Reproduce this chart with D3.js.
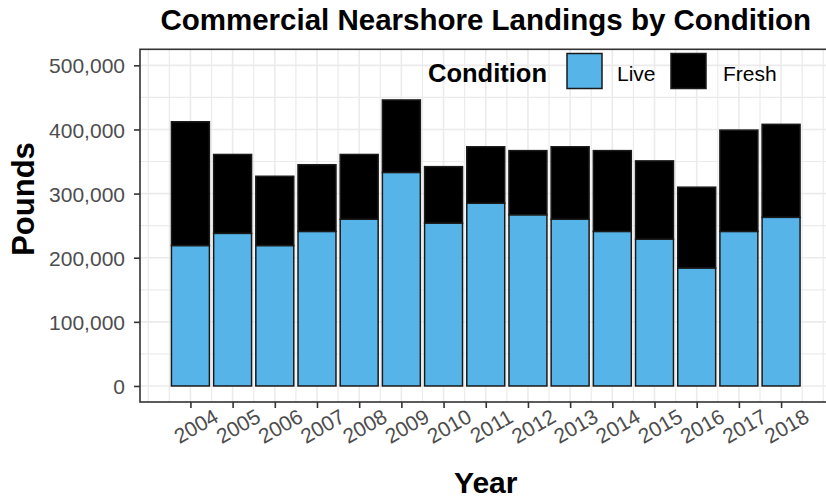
<!DOCTYPE html>
<html><head><meta charset="utf-8">
<script src="https://cdn.jsdelivr.net/npm/d3@7"></script>
<style>body{margin:0;background:#fff}svg{display:block}text{font-family:"Liberation Sans",Arial,sans-serif}</style>
</head><body><div id="c"></div>
<script>
const years = [2004,2005,2006,2007,2008,2009,2010,2011,2012,2013,2014,2015,2016,2017,2018];
const live  = [219000,238000,219000,241000,260000,333000,254000,285000,267000,260000,241000,229000,184000,241000,263000];
const fresh = [193000,123000,108000,104000,101000,113000,88000,88000,100000,113000,126000,122000,126000,158000,145000];
const seriesNames = ["Live","Fresh"];
const seriesColors = ["#56B4E9","#000000"];
const yTicks = [0,100000,200000,300000,400000,500000];

const W=826,H=499;
const svg=d3.select("#c").append("svg").attr("width",W).attr("height",H);
const L=140,R=831.5,T=49.3,B=402;
const x=d3.scaleLinear().domain([2002.805,2019.195]).range([L,R]);
const y=d3.scaleLinear().domain([-25000,525000]).range([B,T]);
const grey="#EBEBEB";
const g=svg.append("g");
svg.append("clipPath").attr("id","pc").append("rect").attr("x",L).attr("y",T).attr("width",R-L).attr("height",B-T);
const pg=g.append("g").attr("clip-path","url(#pc)");
const xMinor=d3.range(2003,2019.6,0.5).filter(v=>!years.includes(v));
pg.selectAll(".xm").data(xMinor).enter().append("line").attr("x1",d=>x(d)).attr("x2",d=>x(d)).attr("y1",T).attr("y2",B).attr("stroke",grey).attr("stroke-width",1.2);
const yMinor=d3.range(-50000,550001,50000).filter(v=>!yTicks.includes(v));
pg.selectAll(".ym").data(yMinor).enter().append("line").attr("x1",L).attr("x2",R).attr("y1",d=>y(d)).attr("y2",d=>y(d)).attr("stroke",grey).attr("stroke-width",1.2);
pg.selectAll(".xM").data(years).enter().append("line").attr("x1",d=>x(d)).attr("x2",d=>x(d)).attr("y1",T).attr("y2",B).attr("stroke",grey).attr("stroke-width",1.6);
pg.selectAll(".yM").data(yTicks).enter().append("line").attr("x1",L).attr("x2",R).attr("y1",d=>y(d)).attr("y2",d=>y(d)).attr("stroke",grey).attr("stroke-width",1.6);

const rows=years.map((yr,i)=>({year:yr,Live:live[i],Fresh:fresh[i]}));
const stack=d3.stack().keys(seriesNames)(rows);
const step=x(2005)-x(2004), bw=step*0.9;
stack.forEach((s,si)=>{
  pg.selectAll(".b"+si).data(s).enter().append("rect")
    .attr("x",d=>x(d.data.year)-bw/2).attr("width",bw)
    .attr("y",d=>y(d[1])).attr("height",d=>y(d[0])-y(d[1]))
    .attr("fill",seriesColors[si]).attr("stroke","#1a1a1a").attr("stroke-width",1.5);
});
g.append("rect").attr("x",L).attr("y",T).attr("width",R-L).attr("height",B-T).attr("fill","none").attr("stroke","#333").attr("stroke-width",1.6);

const yAxis=svg.append("g").attr("transform",`translate(${L},0)`)
  .call(d3.axisLeft(y).tickValues(yTicks).tickSize(6).tickPadding(9).tickFormat(d3.format(",")));
yAxis.select(".domain").remove();
yAxis.selectAll(".tick line").attr("stroke","#333").attr("stroke-width",1.6);
yAxis.selectAll(".tick text").attr("fill","#4D4D4D").style("font-size","21px").attr("dy","0.36em");

const xAxis=svg.append("g").attr("transform",`translate(0,${B})`)
  .call(d3.axisBottom(x).tickValues(years).tickSize(6).tickFormat(d3.format("d")));
xAxis.select(".domain").remove();
xAxis.selectAll(".tick line").attr("stroke","#333").attr("stroke-width",1.6);
xAxis.selectAll(".tick text").attr("fill","#4D4D4D").style("font-size","21px")
  .attr("text-anchor","middle").attr("dominant-baseline","central").attr("y",0).attr("dy",null)
  .attr("transform","translate(5,24) rotate(-30)");

svg.append("text").attr("x",(L+R)/2).attr("y",30).attr("text-anchor","middle")
  .style("font-size","29.5px").style("font-weight","bold").text("Commercial Nearshore Landings by Condition");
svg.append("text").attr("x",(L+R)/2).attr("y",493).attr("text-anchor","middle")
  .style("font-size","30px").style("font-weight","bold").text("Year");
svg.append("text").attr("transform","translate(34,199) rotate(-90)").attr("text-anchor","middle")
  .style("font-size","31px").style("font-weight","bold").text("Pounds");

const lg=svg.append("g");
lg.append("text").attr("x",428).attr("y",82).style("font-size","25.5px").style("font-weight","bold").text("Condition");
const keyX=[567,671], labX=[617,723];
seriesNames.forEach((n,i)=>{
  lg.append("rect").attr("x",keyX[i]).attr("y",53.5).attr("width",35).attr("height",35)
    .attr("fill",seriesColors[i]).attr("stroke","#1a1a1a").attr("stroke-width",1.5);
  lg.append("text").attr("x",labX[i]).attr("y",81).style("font-size","21px").attr("fill","#000").text(n);
});
</script></body></html>
